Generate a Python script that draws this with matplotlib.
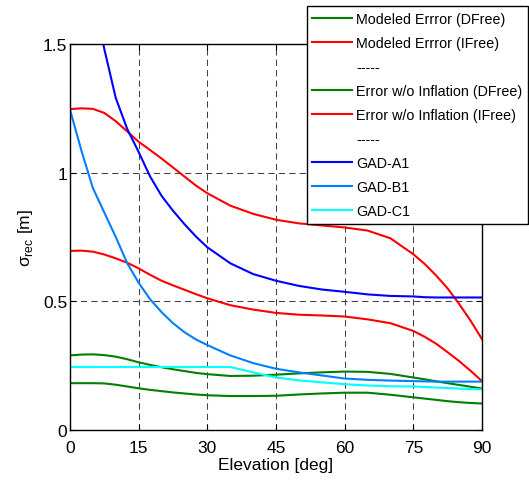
import matplotlib.pyplot as plt
from matplotlib.lines import Line2D

plt.rcParams['font.family'] = ['Liberation Sans', 'DejaVu Sans']
plt.rcParams['mathtext.fontset'] = 'custom'
plt.rcParams['mathtext.rm'] = 'Liberation Sans'

# elevation grid [deg]
elev = [0, 2.5, 5, 7.5, 10, 12.5, 15, 17.5, 20, 22.5, 25, 27.5, 30, 35, 40, 45,
        50, 55, 60, 65, 70, 75, 77.5, 80, 82.5, 85, 87.5, 90]

# sigma_rec [m]
mod_dfree = [0.290, 0.293, 0.294, 0.291, 0.285, 0.275, 0.263, 0.253, 0.244, 0.236,
             0.229, 0.222, 0.217, 0.210, 0.211, 0.215, 0.220, 0.224, 0.227, 0.226,
             0.218, 0.204, 0.197, 0.189, 0.182, 0.175, 0.168, 0.161]
mod_ifree = [1.247, 1.250, 1.248, 1.232, 1.200, 1.160, 1.120, 1.088, 1.055, 1.020,
             0.985, 0.950, 0.920, 0.872, 0.840, 0.817, 0.803, 0.795, 0.787, 0.775,
             0.745, 0.683, 0.645, 0.600, 0.550, 0.490, 0.425, 0.353]
noinf_dfree = [0.182, 0.182, 0.182, 0.181, 0.176, 0.169, 0.162, 0.156, 0.151, 0.146,
               0.142, 0.138, 0.135, 0.132, 0.132, 0.133, 0.138, 0.142, 0.145, 0.145,
               0.137, 0.127, 0.122, 0.117, 0.112, 0.108, 0.105, 0.103]
noinf_ifree = [0.696, 0.697, 0.693, 0.682, 0.667, 0.650, 0.628, 0.603, 0.580, 0.562,
               0.545, 0.528, 0.512, 0.485, 0.468, 0.455, 0.448, 0.445, 0.441, 0.430,
               0.415, 0.385, 0.362, 0.335, 0.302, 0.268, 0.230, 0.190]
gad_a1 = [2.200, 1.950, 1.710, 1.480, 1.290, 1.170, 1.080, 0.985, 0.910, 0.852,
          0.800, 0.752, 0.710, 0.648, 0.606, 0.580, 0.560, 0.546, 0.537, 0.527,
          0.521, 0.519, 0.516, 0.515, 0.515, 0.515, 0.515, 0.515]
gad_b1 = [1.245, 1.085, 0.940, 0.845, 0.750, 0.648, 0.572, 0.508, 0.458, 0.415,
          0.380, 0.352, 0.330, 0.290, 0.260, 0.238, 0.224, 0.212, 0.200, 0.195,
          0.192, 0.190, 0.189, 0.188, 0.188, 0.188, 0.188, 0.188]
gad_c1 = [0.245, 0.245, 0.245, 0.245, 0.245, 0.245, 0.245, 0.245, 0.245, 0.245,
          0.245, 0.245, 0.245, 0.245, 0.224, 0.204, 0.193, 0.185, 0.178, 0.173,
          0.170, 0.169, 0.167, 0.165, 0.163, 0.161, 0.159, 0.158]

fig = plt.figure(figsize=(5.29, 4.85), dpi=100)
ax = fig.add_axes([70 / 529, 1 - 431 / 485, 412 / 529, 386 / 485])

lw = 1.5
ax.plot(elev, mod_dfree, color='#008000', lw=lw, label='Modeled Errror (DFree)')
ax.plot(elev, mod_ifree, color='#ff0000', lw=lw, label='Modeled Errror (IFree)')
ax.plot(elev, noinf_dfree, color='#008000', lw=lw, label='Error w/o Inflation (DFree)')
ax.plot(elev, noinf_ifree, color='#ff0000', lw=lw, label='Error w/o Inflation (IFree)')
ax.plot(elev, gad_a1, color='#0000ff', lw=lw, label='GAD-A1')
ax.plot(elev, gad_b1, color='#0080ff', lw=lw, label='GAD-B1')
ax.plot(elev, gad_c1, color='#00ffff', lw=lw, label='GAD-C1')

ax.set_xlim(0, 90)
ax.set_ylim(0, 1.5)
ax.set_xticks(range(0, 91, 15))
ax.set_yticks([0, 0.5, 1, 1.5])
ax.set_yticklabels(['0', '0.5', '1', '1.5'])
ax.tick_params(direction='in', top=True, right=True, length=4, width=0.8,
               labelsize=12.5)
ax.tick_params(axis='x', pad=7)
ax.tick_params(axis='y', pad=2)
ax.grid(True, color='#404040', linestyle=(0, (6, 4)), linewidth=0.75)
for s in ax.spines.values():
    s.set_linewidth(1.0)

ax.set_xlabel('Elevation [deg]', fontsize=12.5, labelpad=2)
ax.set_ylabel('σ$_{\\mathrm{rec}}$ [m]', fontsize=12.5, labelpad=6)

# legend with the "-----" separator rows
h, l = ax.get_legend_handles_labels()
sep = Line2D([], [], color='none')
handles = [h[0], h[1], sep, h[2], h[3], sep, h[4], h[5], h[6]]
labels = [l[0], l[1], '-----', l[2], l[3], '-----', l[4], l[5], l[6]]
leg = fig.legend(handles, labels, loc='upper right', bbox_to_anchor=(528 / 529, 1 - 7 / 485),
                 fontsize=10.3, frameon=True, fancybox=False, framealpha=1,
                 edgecolor='black', handlelength=2.8, handletextpad=0.25,
                 borderpad=0.4, labelspacing=0.7, borderaxespad=0)
leg.get_frame().set_linewidth(1.0)

fig.savefig('out.png', dpi=100)
